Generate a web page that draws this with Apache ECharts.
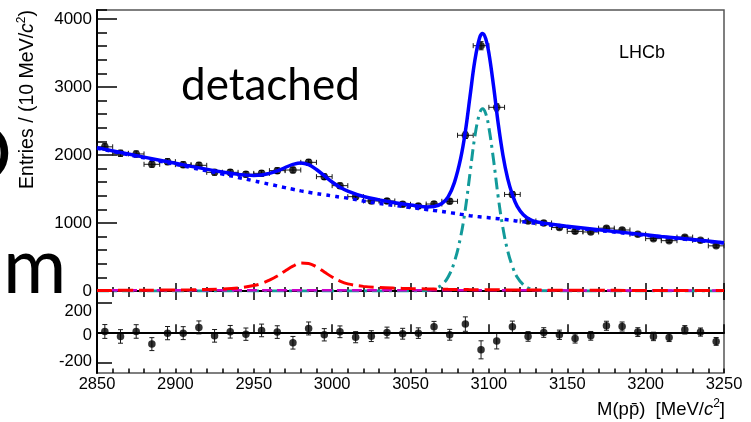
<!DOCTYPE html>
<html>
<head>
<meta charset="utf-8">
<script src="https://cdn.jsdelivr.net/npm/echarts@6/dist/echarts.min.js"></script>
<style>
  html, body { margin: 0; padding: 0; background: #ffffff; }
  #chart { width: 751px; height: 422px; }
</style>
</head>
<body>
<div id="chart"></div>
<script>
// ---- binned data: M(p pbar) in 10 MeV bins ----
const massBins = [2855, 2865, 2875, 2885, 2895, 2905, 2915, 2925, 2935, 2945,
                  2955, 2965, 2975, 2985, 2995, 3005, 3015, 3025, 3035, 3045,
                  3055, 3065, 3075, 3085, 3095, 3105, 3115, 3125, 3135, 3145,
                  3155, 3165, 3175, 3185, 3195, 3205, 3215, 3225, 3235, 3245];
const entries = [2120, 2025, 2015, 1863, 1902, 1858, 1848, 1745, 1745, 1716,
                 1730, 1770, 1779, 1892, 1681, 1549, 1387, 1324, 1324, 1275,
                 1250, 1279, 1319, 2290, 3607, 2701, 1420, 1030, 1000, 933,
                 877, 868, 924, 897, 835, 770, 740, 792, 745, 664];
const entryErr = [46, 45, 45, 43, 44, 43, 43, 42, 42, 41,
                  42, 42, 42, 43, 41, 39, 37, 36, 36, 36,
                  35, 36, 36, 48, 60, 52, 38, 32, 32, 31,
                  30, 29, 30, 30, 29, 28, 27, 28, 27, 26];
const residuals = [11, -22, 11, -73, 0, 0, 38, -18, 9, -7,
                   18, 7, -64, 31, -11, 9, -27, -20, 4, -4,
                   0, 42, -11, 60, -111, -53, 42, -22, 4, -11,
                   -36, -18, 49, 44, 7, -22, -29, 22, 7, -55];

// ---- fit model curves ----
const curveMass = [2850, 2870, 2890, 2910, 2930, 2940, 2950, 2955, 2960, 2965,
                   2970, 2975, 2980, 2985, 2990, 2995, 3000, 3005, 3010, 3020,
                   3030, 3040, 3050, 3060, 3065, 3070, 3074, 3078, 3082, 3085,
                   3088, 3091, 3094, 3096, 3098, 3100, 3103, 3106, 3109, 3112,
                   3115, 3118, 3122, 3126, 3130, 3135, 3140, 3150, 3170, 3190,
                   3210, 3230, 3250];
const totalFit = [2108, 2015, 1923, 1833, 1750, 1715, 1700, 1705, 1730, 1765,
                  1815, 1861, 1884, 1857, 1787, 1695, 1603, 1526, 1470, 1390,
                  1340, 1299, 1264, 1237, 1242, 1287, 1385, 1594, 1949, 2345,
                  2866, 3381, 3718, 3785, 3708, 3501, 3011, 2454, 1993, 1653,
                  1416, 1248, 1122, 1056, 1021, 998, 981, 953, 900, 851,
                  803, 757, 711];
const combBkg = [2100, 2005, 1910, 1815, 1720, 1670, 1620, 1595, 1570, 1545,
                 1520, 1496, 1472, 1452, 1432, 1415, 1398, 1381, 1365, 1322,
                 1288, 1257, 1229, 1200, 1185, 1170, 1156, 1142, 1128, 1118,
                 1107, 1098, 1091, 1087, 1082, 1078, 1070, 1063, 1055, 1047,
                 1038, 1028, 1017, 1006, 995, 981, 968, 942, 890, 842,
                 795, 750, 705];
const etacComp = [8, 10, 13, 18, 30, 45, 80, 110, 160, 220,
                  295, 365, 412, 405, 355, 280, 205, 145, 105, 68,
                  52, 42, 35, 30, 28, 26, 24, 23, 22, 21,
                  20, 19, 19, 18, 18, 18, 17, 17, 16, 16,
                  15, 15, 14, 14, 13, 13, 12, 11, 10, 9,
                  8, 7, 6];
const jpsiComp = [0, 0, 0, 0, 0, 0, 0, 0, 0, 0,
                  0, 0, 0, 0, 0, 0, 0, 0, 0, 0,
                  0, 0, 0, 7, 29, 91, 205, 429, 799, 1206,
                  1739, 2264, 2608, 2680, 2608, 2405, 1924, 1374, 922, 590,
                  363, 205, 91, 36, 13, 4, 1, 0, 0, 0,
                  0, 0, 0];
const flatComp = [12, 12, 12, 12, 11, 11, 11, 11, 11, 11,
                  11, 11, 11, 11, 11, 11, 11, 11, 11, 10,
                  10, 10, 10, 10, 10, 10, 10, 10, 10, 10,
                  10, 10, 10, 10, 10, 10, 10, 10, 10, 10,
                  10, 10, 10, 10, 10, 10, 10, 9, 9, 9,
                  9, 9, 9];

// ---- axis ticks ----
const massTicks = [2850, 2900, 2950, 3000, 3050, 3100, 3150, 3200, 3250];
const entryTicks = [0, 1000, 2000, 3000, 4000];
const residTicks = [-200, 0, 200];

const BIN_HALF = 5;
const AXIS_FONT = 'Liberation Sans';

const chart = echarts.init(document.getElementById('chart'), null, { renderer: 'canvas' });

function pair(xs, ys) { return xs.map((x, i) => [x, ys[i]]); }
const plainNumber = (v) => String(v);
// residual-pad labels are nudged inward from their ticks, as in the ROOT pad
const residLabelStyle = { '-200': 'up', '0': 'dn1', '200': 'dn2' };
const residLabel = (v) => '{' + (residLabelStyle[String(v)] || 'dn1') + '|' + v + '}';

function errorBarItem(withXErr) {
  return function (params, api) {
    const x = api.value(0), y = api.value(1), e = api.value(2);
    const p = api.coord([x, y]);
    const t = api.coord([x, y + e]);
    const b = api.coord([x, y - e]);
    const st = { stroke: '#1a1a1a', lineWidth: 1 };
    const cap = 2.5;
    const kids = [
      { type: 'line', shape: { x1: p[0], y1: t[1], x2: p[0], y2: b[1] }, style: st },
      { type: 'line', shape: { x1: p[0] - cap, y1: t[1], x2: p[0] + cap, y2: t[1] }, style: st },
      { type: 'line', shape: { x1: p[0] - cap, y1: b[1], x2: p[0] + cap, y2: b[1] }, style: st }
    ];
    if (withXErr) {
      const l = api.coord([x - BIN_HALF, y]);
      const r = api.coord([x + BIN_HALF, y]);
      kids.push(
        { type: 'line', shape: { x1: l[0], y1: p[1], x2: r[0], y2: p[1] }, style: st },
        { type: 'line', shape: { x1: l[0], y1: p[1] - cap, x2: l[0], y2: p[1] + cap }, style: st },
        { type: 'line', shape: { x1: r[0], y1: p[1] - cap, x2: r[0], y2: p[1] + cap }, style: st }
      );
    }
    return { type: 'group', children: kids };
  };
}

const xBase = { type: 'value', min: 2850, max: 3250, splitLine: { show: false } };
const blackLine = { show: true, lineStyle: { color: '#000', width: 2 } };
const tickStyle = { color: '#000', width: 1.5 };

const titleRich = {
  n: { font: '19.5px ' + AXIS_FONT, fill: '#000', lineHeight: 24, verticalAlign: 'middle' },
  i: { font: 'italic 19.5px ' + AXIS_FONT, fill: '#000', lineHeight: 24, verticalAlign: 'middle' },
  s: { font: '12px ' + AXIS_FONT, fill: '#000', lineHeight: 12, verticalAlign: 'top' }
};
const xTitleRich = {
  n: { font: '18.5px ' + AXIS_FONT, fill: '#000', lineHeight: 24, verticalAlign: 'middle' },
  i: { font: 'italic 18.5px ' + AXIS_FONT, fill: '#000', lineHeight: 24, verticalAlign: 'middle' },
  s: { font: '12px ' + AXIS_FONT, fill: '#000', lineHeight: 12, verticalAlign: 'top' }
};

const option = {
  animation: false,
  backgroundColor: '#ffffff',
  grid: [
    { left: 97, top: 10, width: 627, height: 281, show: true, borderColor: '#555', borderWidth: 1.5, backgroundColor: 'transparent' },
    { left: 97, top: 291, width: 627, height: 82, show: true, borderColor: '#555', borderWidth: 1.5, backgroundColor: 'transparent' }
  ],
  xAxis: [
    Object.assign({}, xBase, { gridIndex: 0, position: 'bottom', axisLine: blackLine,
      axisTick: { show: true, inside: true, length: 8, lineStyle: tickStyle, customValues: massTicks },
      axisLabel: { show: false } }),
    Object.assign({}, xBase, { gridIndex: 0, position: 'bottom', interval: 10, axisLine: { show: false },
      axisTick: { show: true, inside: true, length: 4, lineStyle: tickStyle }, axisLabel: { show: false } }),
    Object.assign({}, xBase, { gridIndex: 1, position: 'bottom', axisLine: blackLine,
      axisTick: { show: true, inside: true, length: 9, lineStyle: tickStyle, customValues: massTicks },
      axisLabel: { show: true, customValues: massTicks, formatter: plainNumber, margin: 3, color: '#000', fontFamily: AXIS_FONT, fontSize: 16.5 } }),
    Object.assign({}, xBase, { gridIndex: 1, position: 'bottom', interval: 10, axisLine: { show: false },
      axisTick: { show: true, inside: true, length: 4.5, lineStyle: tickStyle }, axisLabel: { show: false } }),
    Object.assign({}, xBase, { gridIndex: 1, position: 'top', axisLine: { show: false },
      axisTick: { show: true, inside: true, length: 9, lineStyle: tickStyle, customValues: massTicks }, axisLabel: { show: false } }),
    Object.assign({}, xBase, { gridIndex: 1, position: 'top', interval: 10, axisLine: { show: false },
      axisTick: { show: true, inside: true, length: 6, lineStyle: tickStyle }, axisLabel: { show: false } })
  ],
  yAxis: [
    { type: 'value', gridIndex: 0, position: 'left', min: 0, max: 4132, splitLine: { show: false },
      axisLine: blackLine,
      axisTick: { show: true, inside: true, length: 20, lineStyle: tickStyle, customValues: entryTicks },
      axisLabel: { show: true, customValues: entryTicks, formatter: plainNumber, margin: 5, color: '#000', fontFamily: AXIS_FONT, fontSize: 17 } },
    { type: 'value', gridIndex: 0, position: 'left', min: 0, max: 4132, interval: 200, splitLine: { show: false },
      axisLine: { show: false },
      axisTick: { show: true, inside: true, length: 10, lineStyle: tickStyle }, axisLabel: { show: false } },
    { type: 'value', gridIndex: 1, position: 'left', min: -265, max: 280, splitLine: { show: false },
      axisLine: blackLine,
      axisTick: { show: true, inside: true, length: 15, lineStyle: tickStyle, customValues: residTicks },
      axisLabel: { show: true, customValues: residTicks, formatter: residLabel, margin: 5, color: '#000', fontFamily: AXIS_FONT, fontSize: 16.5,
        rich: {
          up: { fontFamily: AXIS_FONT, fontSize: 16.5, color: '#000', height: 17, padding: [0, 0, 3, 0] },
          dn1: { fontFamily: AXIS_FONT, fontSize: 16.5, color: '#000', height: 17, padding: [5, 0, 0, 0] },
          dn2: { fontFamily: AXIS_FONT, fontSize: 16.5, color: '#000', height: 17, padding: [16, 0, 0, 0] }
        } } }
  ],
  series: [
    { name: 'errors', type: 'custom', xAxisIndex: 0, yAxisIndex: 0, z: 2,
      renderItem: errorBarItem(true), encode: { x: 0, y: 1 },
      data: massBins.map((m, i) => [m, entries[i], entryErr[i]]) },
    { name: 'data', type: 'scatter', xAxisIndex: 0, yAxisIndex: 0, z: 3,
      symbol: 'circle', symbolSize: 7.5, itemStyle: { color: '#000' },
      data: pair(massBins, entries) },
    { name: 'jpsi', type: 'line', xAxisIndex: 0, yAxisIndex: 0, z: 4, showSymbol: false, smooth: 0.4,
      lineStyle: { color: '#129a9a', width: 3, type: [12, 5, 3, 5] }, data: pair(curveMass, jpsiComp) },
    { name: 'flat', type: 'line', xAxisIndex: 0, yAxisIndex: 0, z: 4, showSymbol: false, smooth: 0.4,
      lineStyle: { color: '#cc00cc', width: 2.5, type: [10, 5] }, data: pair(curveMass, flatComp) },
    { name: 'etac', type: 'line', xAxisIndex: 0, yAxisIndex: 0, z: 4, showSymbol: false, smooth: 0.4,
      lineStyle: { color: '#ff0000', width: 3, type: [15, 6] }, data: pair(curveMass, etacComp) },
    { name: 'bkg', type: 'line', xAxisIndex: 0, yAxisIndex: 0, z: 5, showSymbol: false, smooth: 0.4,
      lineStyle: { color: '#0000ff', width: 3.5, type: [4, 5] }, data: pair(curveMass, combBkg) },
    { name: 'total', type: 'line', xAxisIndex: 0, yAxisIndex: 0, z: 6, showSymbol: false, smooth: 0.4,
      lineStyle: { color: '#0000ff', width: 3.5 }, data: pair(curveMass, totalFit) },
    { name: 'residErrors', type: 'custom', xAxisIndex: 2, yAxisIndex: 2, z: 2,
      renderItem: errorBarItem(false), encode: { x: 0, y: 1 },
      data: massBins.map((m, i) => [m, residuals[i], entryErr[i]]) },
    { name: 'residuals', type: 'scatter', xAxisIndex: 2, yAxisIndex: 2, z: 3,
      symbol: 'circle', symbolSize: 7.5, itemStyle: { color: '#000' },
      data: pair(massBins, residuals),
      markLine: { silent: true, symbol: 'none', label: { show: false },
        lineStyle: { color: '#000', width: 1.5, type: 'solid' }, data: [{ yAxis: 0 }] } }
  ],
  graphic: [
    { type: 'text', x: 181, y: 86, z: 10,
      style: { text: 'detached', font: '44px Lato', fill: '#000', textAlign: 'left', textVerticalAlign: 'middle' } },
    { type: 'text', x: 12, y: 156, z: 10,
      style: { text: 'O', font: '77px Lato', fill: '#000', textAlign: 'right', textVerticalAlign: 'middle' } },
    { type: 'text', x: 3, y: 268, z: 10,
      style: { text: 'm', font: '77px Lato', fill: '#000', textAlign: 'left', textVerticalAlign: 'middle' } },
    { type: 'text', x: 619, y: 53, z: 10,
      style: { text: 'LHCb', font: '18px ' + AXIS_FONT, fill: '#000', textAlign: 'left', textVerticalAlign: 'middle' } },
    { type: 'text', x: 28, y: 10, rotation: Math.PI / 2, z: 10,
      style: { text: '{n|Entries / (10 MeV/}{i|c}{s|2}{n|)}', textAlign: 'right', textVerticalAlign: 'middle', rich: titleRich } },
    { type: 'text', x: 725, y: 410, z: 10,
      style: { text: '{n|M(pp\u0304)  [MeV/}{i|c}{s|2}{n|]}', textAlign: 'right', textVerticalAlign: 'middle', rich: xTitleRich } }
  ]
};

chart.setOption(option);
</script>
</body>
</html>
